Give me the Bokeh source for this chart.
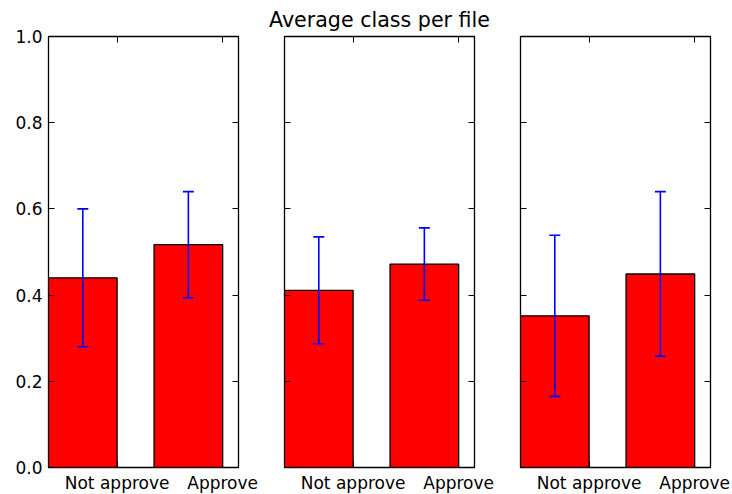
from bokeh.plotting import figure
from bokeh.models import Range1d, FixedTicker, LinearAxis, ColumnDataSource, Whisker, TeeHead
from bokeh.layouts import row
from bokeh.embed import file_html
from bokeh.resources import INLINE

# ---- data ----
categories = ["Not approve", "Approve"]
ind = [0, 1]
bar_width = 0.65
panel1_means = [0.440, 0.517]
panel1_errs = [0.160, 0.123]
panel2_means = [0.411, 0.472]
panel2_errs = [0.124, 0.084]
panel3_means = [0.352, 0.449]
panel3_errs = [0.187, 0.191]
y_ticks = [0.0, 0.2, 0.4, 0.6, 0.8, 1.0]
title_text = "Average class per file"

FONT = "DejaVu Sans"
LABEL_SIZE = "17px"


def make_panel(means, errs, show_ylabels, left_border, right_border, title=None):
    p = figure(
        output_backend="svg", toolbar_location=None,
        frame_width=190, frame_height=431,
        x_range=Range1d(0, 1.8), y_range=Range1d(0, 1.0),
        min_border_left=left_border, min_border_right=right_border,
        min_border_top=35, min_border_bottom=28,
        x_axis_location=None, y_axis_location=None,
        background_fill_color="white", border_fill_color="white",
    )
    p.grid.visible = False
    p.outline_line_color = "black"
    p.outline_line_width = 1.3
    if title:
        p.title.text = title
        p.title.align = "center"
        p.title.text_font = FONT
        p.title.text_font_size = "20.6px"
        p.title.text_font_style = "normal"
        p.title.text_color = "black"

    xt = [i + bar_width for i in ind]
    centers = [i + bar_width / 2 for i in ind]

    def style(ax, labels):
        ax.axis_line_color = None
        ax.major_tick_in = 6
        ax.major_tick_out = 0
        ax.minor_tick_line_color = None
        ax.major_tick_line_color = "black"
        ax.major_tick_line_width = 1
        ax.major_label_text_font = FONT
        ax.major_label_text_font_size = LABEL_SIZE
        ax.major_label_text_color = "black"
        if not labels:
            ax.major_label_text_font_size = "0px"
            ax.major_label_text_color = None
            ax.major_label_standoff = 0

    bottom = LinearAxis(ticker=FixedTicker(ticks=xt),
                        major_label_overrides={xt[k]: categories[k] for k in range(len(xt))})
    style(bottom, True)
    bottom.major_label_standoff = 5
    p.add_layout(bottom, "below")

    top = LinearAxis(ticker=FixedTicker(ticks=xt))
    style(top, False)
    p.add_layout(top, "above")

    left = LinearAxis(ticker=FixedTicker(ticks=y_ticks),
                      major_label_overrides={t: f"{t:.1f}" for t in y_ticks})
    style(left, show_ylabels)
    if show_ylabels:
        left.major_label_standoff = 6
    p.add_layout(left, "left")

    right = LinearAxis(ticker=FixedTicker(ticks=y_ticks))
    style(right, False)
    p.add_layout(right, "right")

    src = ColumnDataSource(dict(x=centers, top=means,
                                upper=[m + e for m, e in zip(means, errs)],
                                lower=[m - e for m, e in zip(means, errs)]))
    p.vbar(x="x", top="top", bottom=0, width=bar_width, source=src,
           fill_color="#ff0000", line_color="black", line_width=1.3)
    w = Whisker(base="x", upper="upper", lower="lower", source=src,
                line_color="#0000ff", line_width=1.6, level="overlay",
                upper_head=TeeHead(size=11, line_color="#0000ff", line_width=1.6),
                lower_head=TeeHead(size=11, line_color="#0000ff", line_width=1.6))
    p.add_layout(w)
    return p


p1 = make_panel(panel1_means, panel1_errs, True, 48, 23)
p2 = make_panel(panel2_means, panel2_errs, False, 23, 23, title=title_text)
p3 = make_panel(panel3_means, panel3_errs, False, 23, 22)

layout = row(p1, p2, p3)
open("out.html", "w").write(file_html(layout, INLINE))
